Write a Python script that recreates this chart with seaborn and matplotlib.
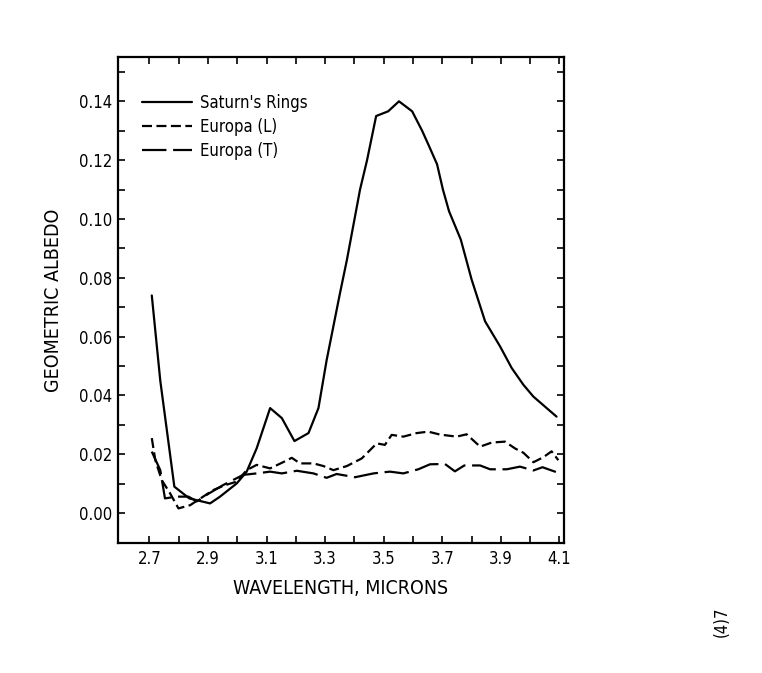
import numpy as np
import pandas as pd
import matplotlib
matplotlib.use("Agg")
import matplotlib.pyplot as plt
import seaborn as sns
from matplotlib.ticker import FixedLocator, FuncFormatter

sns.set_style("ticks")
plt.rcParams["font.family"] = ["DejaVu Sans"]
plt.rcParams["font.stretch"] = "condensed"
plt.rcParams["text.color"] = "black"
plt.rcParams["axes.labelcolor"] = "black"
plt.rcParams["xtick.color"] = "black"
plt.rcParams["ytick.color"] = "black"
plt.rcParams["axes.edgecolor"] = "black"

# values
saturn_x = [2.708, 2.737, 2.785, 2.836, 2.907, 2.941, 2.998, 3.032, 3.066, 3.112,
            3.152, 3.195, 3.243, 3.277, 3.305, 3.328, 3.351, 3.374, 3.419, 3.443,
            3.474, 3.515, 3.552, 3.597, 3.631, 3.655, 3.682, 3.702, 3.723, 3.763,
            3.800, 3.846, 3.897, 3.937, 3.977, 4.011, 4.090]
saturn_y = [0.074, 0.045, 0.009, 0.005, 0.0033, 0.0056, 0.0101, 0.0141, 0.022, 0.0357,
            0.0323, 0.0245, 0.0272, 0.0357, 0.052, 0.0635, 0.075, 0.086, 0.110, 0.120,
            0.135, 0.1366, 0.140, 0.1366, 0.130, 0.1247, 0.1186, 0.110, 0.1026, 0.093,
            0.0794, 0.0652, 0.0567, 0.0493, 0.0436, 0.0396, 0.0328]

europa_l_x = [2.708, 2.720, 2.742, 2.770, 2.799, 2.839, 2.917, 2.958, 2.998, 3.032,
              3.066, 3.112, 3.152, 3.186, 3.214, 3.260, 3.294, 3.328, 3.374, 3.425,
              3.476, 3.504, 3.527, 3.567, 3.612, 3.652, 3.692, 3.749, 3.783, 3.829,
              3.869, 3.914, 3.948, 3.977, 4.011, 4.045, 4.073, 4.096]
europa_l_y = [0.0255, 0.018, 0.0112, 0.0068, 0.0016, 0.0027, 0.0078, 0.0095, 0.0107, 0.0146,
              0.0164, 0.0152, 0.0171, 0.0188, 0.0169, 0.0169, 0.016, 0.0146, 0.016, 0.0186,
              0.0237, 0.0232, 0.0266, 0.026, 0.0272, 0.0277, 0.0267, 0.026, 0.0268, 0.0226,
              0.024, 0.0243, 0.022, 0.0205, 0.0173, 0.019, 0.021, 0.018]

europa_t_x = [2.708, 2.737, 2.753, 2.793, 2.833, 2.862, 2.900, 2.951, 3.020, 3.066,
              3.112, 3.152, 3.203, 3.260, 3.305, 3.339, 3.402, 3.465, 3.521, 3.567,
              3.618, 3.658, 3.709, 3.743, 3.775, 3.829, 3.863, 3.920, 3.965, 4.011,
              4.042, 4.096]
europa_t_y = [0.0209, 0.0146, 0.005, 0.0056, 0.0056, 0.004, 0.0065, 0.0095, 0.013, 0.0135,
              0.0141, 0.0135, 0.0144, 0.0135, 0.012, 0.0133, 0.0122, 0.0135, 0.0141, 0.0135,
              0.0149, 0.0166, 0.0167, 0.0142, 0.0162, 0.0162, 0.0149, 0.0149, 0.0158, 0.0145,
              0.0156, 0.0137]

names = ["Saturn's Rings", "Europa (L)", "Europa (T)"]
x_labeled = [2.7, 2.9, 3.1, 3.3, 3.5, 3.7, 3.9, 4.1]
x_minor = [2.8, 3.0, 3.2, 3.4, 3.6, 3.8, 4.0]
y_labeled = [0.00, 0.02, 0.04, 0.06, 0.08, 0.10, 0.12, 0.14]
y_minor = [-0.01, 0.01, 0.03, 0.05, 0.07, 0.09, 0.11, 0.13, 0.15]

df = pd.concat([
    pd.DataFrame({"wl": saturn_x, "albedo": saturn_y, "series": names[0]}),
    pd.DataFrame({"wl": europa_l_x, "albedo": europa_l_y, "series": names[1]}),
    pd.DataFrame({"wl": europa_t_x, "albedo": europa_t_y, "series": names[2]}),
], ignore_index=True)

fig = plt.figure(figsize=(7.62, 6.73), dpi=100)
ax = fig.add_axes([0.155, 0.193, 0.585, 0.722])

sns.lineplot(data=df, x="wl", y="albedo", style="series", style_order=names,
             dashes={names[0]: "", names[1]: (4.5, 2), names[2]: (11, 3)},
             color="black", linewidth=1.6, estimator=None, sort=False, ax=ax)

ax.set_xlim(2.593, 4.115)
ax.set_ylim(-0.0102, 0.155)
ax.xaxis.set_major_locator(FixedLocator(x_labeled))
ax.xaxis.set_minor_locator(FixedLocator(x_minor))
ax.yaxis.set_major_locator(FixedLocator(y_labeled))
ax.yaxis.set_minor_locator(FixedLocator(y_minor))
ax.xaxis.set_major_formatter(FuncFormatter(lambda v, p: f"{v:.1f}"))
ax.yaxis.set_major_formatter(FuncFormatter(lambda v, p: f"{v:.2f}"))
ax.tick_params(which="both", direction="in", top=True, right=True,
               length=5, width=1.2, labelsize=12)
ax.tick_params(axis="x", pad=5)
ax.tick_params(axis="y", pad=4)
for s in ax.spines.values():
    s.set_linewidth(1.6)

ax.set_xlabel("WAVELENGTH, MICRONS", fontsize=14, labelpad=8)
ax.set_ylabel("GEOMETRIC ALBEDO", fontsize=14, labelpad=12)

leg = ax.legend(loc="upper left", bbox_to_anchor=(0.02, 0.955), frameon=False,
                fontsize=12, handlelength=3.0, handletextpad=0.5, labelspacing=0.35)
for line in leg.get_lines():
    line.set_linewidth(1.6)

fig.text(0.935, 0.06, "(4)7", rotation=90, fontsize=12)

fig.savefig("out.png", dpi=100)
